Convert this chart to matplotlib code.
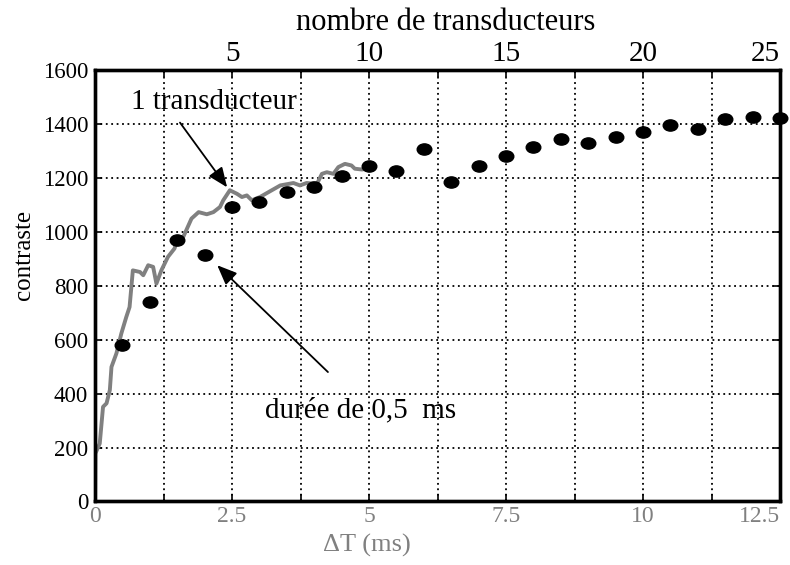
import numpy as np
import matplotlib
matplotlib.use("Agg")
import matplotlib.pyplot as plt
from matplotlib.path import Path
from matplotlib.transforms import Affine2D

plt.rcParams['font.family'] = ['Liberation Serif', 'DejaVu Serif']

# courbe grise : 1 transducteur, contraste en fonction de dT (ms)
dt_ms = [0.0, 0.006, 0.086, 0.146, 0.21, 0.27, 0.30, 0.39, 0.48, 0.57, 0.63, 0.69,
         0.82, 0.88, 0.97, 1.06, 1.12, 1.21, 1.33, 1.45, 1.51, 1.61, 1.76, 1.89,
         2.04, 2.16, 2.28, 2.34, 2.46, 2.59, 2.68, 2.77, 2.86, 3.01, 3.19, 3.38,
         3.62, 3.74, 3.86, 4.05, 4.14, 4.23, 4.35, 4.44, 4.56, 4.68, 4.74, 4.87, 4.96]
contraste_1t = [10, 178, 215, 351, 364, 413, 499, 549, 623, 684, 721, 857,
                851, 839, 876, 870, 808, 857, 907, 938, 976, 981, 1049, 1073,
                1065, 1073, 1092, 1117, 1154, 1141, 1129, 1135, 1117, 1129, 1150, 1172,
                1181, 1172, 1181, 1178, 1215, 1221, 1215, 1240, 1252, 1246, 1234, 1231, 1234]

# points noirs : nombre de transducteurs (duree de 0,5 ms chacun)
n_transd = list(range(1, 26))
contraste_n = [582, 741, 971, 915, 1091, 1112, 1148, 1165, 1208, 1245, 1227, 1307, 1184,
               1244, 1281, 1314, 1344, 1329, 1351, 1370, 1396, 1381, 1418, 1425, 1422]

xticks_ms = [0, 2.5, 5, 7.5, 10, 12.5]
xtick_labels = ['0', '2.5', '5', '7.5', '10', '12.5']
top_ticks = [5, 10, 15, 20, 25]
yticks = [0, 200, 400, 600, 800, 1000, 1200, 1400, 1600]

gray = '#808080'

fig = plt.figure(figsize=(7.9, 5.65), dpi=100)
ax = fig.add_axes([0.1203, 0.1124, 0.8671, 0.7637])

ax.plot(dt_ms, contraste_1t, color=gray, lw=2.8, solid_joinstyle='round')
ax.set_xlim(0, 12.5)
ax.set_ylim(0, 1600)
grid_x = np.arange(0, 12.6, 1.25)
ax.set_xticks(grid_x)
ax.set_xticklabels([xtick_labels[xticks_ms.index(v)] if v in xticks_ms else ''
                    for v in grid_x])
ax.set_yticks(yticks)
ax.tick_params(axis='x', direction='in', length=5, width=1.2, labelsize=17,
               labelcolor=gray, pad=3)
ax.tick_params(axis='y', direction='in', length=5, width=1.2, labelsize=16.5,
               right=True, pad=5)
ax.get_xticklabels()[-1].set_ha('right')
ax.get_xticklabels()[-1].set_x(12.5)
ax.grid(True, color='black', linestyle=(0, (1, 2)), lw=1.3)

# axe du haut : nombre de transducteurs
ax2 = ax.twiny()
ax2.set_xlim(0, 25)
ax2.set_xticks(top_ticks)
ax2.set_xticks([2.5, 7.5, 12.5, 17.5, 22.5], minor=True)
ax2.tick_params(which='both', direction='in', length=5, width=1.2, labelsize=21, pad=2)
ax2.get_xticklabels()[-1].set_ha('right')
for a in (ax, ax2):
    for s in a.spines.values():
        s.set_linewidth(2.4)

ellipse = Path.unit_circle().transformed(Affine2D().scale(1.3, 1.0))
ax2.plot(n_transd, contraste_n, linestyle='none', marker=ellipse, markersize=10.5,
         color='black', clip_on=False)

# annotations
ax.text(2.17, 1483, '1 transducteur', fontsize=21, ha='center', va='center')
ax.annotate('', xy=(2.41, 1165), xytext=(1.55, 1405),
            arrowprops=dict(arrowstyle='-|>,head_length=0.6,head_width=0.25',
                            color='black', lw=1.3, mutation_scale=20,
                            shrinkA=0, shrinkB=0))
ax.text(4.84, 339, 'durée de 0,5  ms', fontsize=21, ha='center', va='center')
ax.annotate('', xy=(2.23, 876), xytext=(4.25, 480),
            arrowprops=dict(arrowstyle='-|>,head_length=0.6,head_width=0.25',
                            color='black', lw=1.3, mutation_scale=20,
                            shrinkA=0, shrinkB=0))

fig.text(24 / 790, 1 - 255 / 565, 'contraste', rotation=90, fontsize=18,
         ha='center', va='center')
fig.text(367 / 790, 1 - 545 / 565, 'ΔT (ms)', fontsize=19, color=gray,
         ha='center', va='center')
fig.text(446 / 790, 1 - 22 / 565, 'nombre de transducteurs', fontsize=22,
         ha='center', va='center')

fig.savefig('out.png', dpi=100)
